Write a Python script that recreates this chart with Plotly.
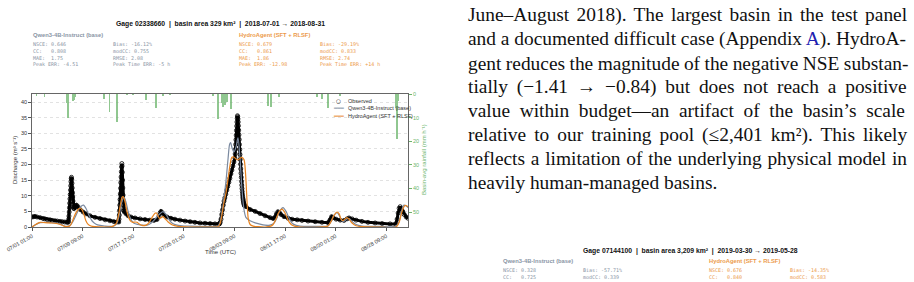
import plotly.graph_objects as go
import pandas as pd

W, H = 914, 282
T0 = pd.Timestamp("2018-07-01 01:00")

# ---------------- data (hours after 2018-07-01 01:00 UTC) ----------------
obs_hours = [0, 6, 12, 20, 32, 44, 51, 60, 71, 80, 91, 100, 111, 120, 130, 138,
             143, 144, 145, 146, 147, 148, 149, 150, 151, 152, 153, 154, 155, 156,
             157, 158, 159, 160, 161, 162, 163, 164, 165, 166,
             170, 176, 182, 190, 202, 213, 229, 249, 269, 289, 308, 324, 336,
             343, 344, 345, 346, 347, 348, 349, 350, 351, 352, 353, 354, 355, 356,
             357, 358, 359, 360, 361, 362, 363, 364, 365,
             372, 380, 391, 407, 427, 447, 466, 482, 494, 502, 506, 510, 514, 522,
             534, 549, 565, 585, 605, 625, 644, 664, 684, 704, 723, 739,
             741, 744, 747, 750, 753, 756, 759, 762, 766, 770, 774, 778, 782, 786,
             790, 794, 798, 802, 803, 804, 805, 806, 807, 808, 809, 810, 811, 812,
             813, 814, 815, 816, 817, 818, 819, 820, 821, 822, 823, 824, 825, 826,
             827, 828, 829, 830, 831, 832, 833, 834, 835, 836, 837, 838, 839, 840,
             846, 862, 882, 901, 921, 941, 953, 961, 966, 972, 978, 984, 996, 1012,
             1028, 1048, 1067, 1091, 1119, 1146, 1170, 1178, 1184, 1190, 1202, 1218,
             1233, 1245, 1253, 1265, 1281, 1304, 1328, 1356, 1384, 1415, 1437, 1443,
             1447, 1451, 1455, 1459, 1465, 1471, 1479, 1486]
obs_q = [3.2, 3.3, 3.4, 3.2, 3.0, 2.7, 2.6, 2.4, 2.3, 2.1, 2.0, 1.9, 1.8, 1.7, 1.6, 1.5,
         1.5, 1.8, 2.5, 3.5, 4.8, 6.2, 7.6, 9.0, 10.4, 11.8, 13.2, 14.5, 15.5, 15.9,
         15.3, 14.0, 12.5, 11.0, 9.6, 8.3, 7.2, 6.4, 6.0, 5.9,
         6.2, 7.0, 6.5, 5.6, 4.8, 4.2, 3.6, 3.1, 2.7, 2.3, 2.0, 1.7, 1.6,
         1.6, 2.5, 3.8, 5.3, 7.0, 8.8, 10.6, 12.4, 14.2, 16.0, 17.7, 19.2, 20.3, 19.5,
         17.5, 15.0, 12.5, 10.2, 8.4, 7.0, 6.0, 5.3, 4.8,
         4.2, 3.6, 3.2, 2.9, 2.6, 2.4, 2.2, 2.1, 2.4, 3.5, 4.5, 5.0, 4.6, 3.8,
         3.2, 2.8, 2.5, 2.2, 1.9, 1.7, 1.5, 1.3, 1.2, 1.1, 1.0, 1.0,
         1.0, 1.5, 2.5, 4.0, 5.5, 7.0, 8.3, 9.3, 10.5, 11.8, 13.0, 14.3, 15.6, 17.0,
         18.2, 19.5, 20.8, 22.0, 23.4, 24.9, 26.4, 27.9, 29.4, 30.9, 32.3, 33.6, 34.8, 35.6,
         35.3, 34.6, 33.6, 32.4, 31.0, 29.5, 28.0, 26.4, 24.8, 23.2, 21.6, 20.1, 18.6, 17.2,
         15.9, 14.6, 13.4, 12.3, 11.3, 10.4, 9.6, 9.0, 8.5, 8.0, 7.6, 7.3, 7.0, 6.8,
         6.5, 5.6, 5.0, 4.3, 3.6, 3.0, 2.7, 3.2, 4.2, 4.9, 4.6, 4.0, 3.3, 2.8,
         2.5, 2.3, 2.1, 1.9, 1.7, 1.5, 1.4, 2.3, 3.3, 3.0, 2.5, 2.2,
         2.1, 2.6, 2.9, 2.6, 2.2, 1.8, 1.5, 1.3, 1.1, 1.0, 1.0, 2.5,
         4.5, 6.0, 6.5, 6.0, 5.0, 4.0, 3.2, 2.8]

qwen_hours = [0, 16, 32, 51, 71, 91, 111, 126, 138, 150, 162, 174, 186, 198, 204, 213,
              225, 237, 253, 269, 289, 308, 324, 336, 344, 352, 360, 364, 372, 380,
              391, 403, 419, 435, 455, 470, 486, 502, 518, 530, 542, 553, 569, 593,
              625, 664, 704, 735, 743, 751, 759, 767, 775, 781, 785, 790, 798, 806,
              814, 822, 830, 838, 846, 862, 882, 901, 921, 941, 957, 968, 980, 992,
              1004, 1016, 1028, 1044, 1059, 1099, 1138, 1170, 1182, 1194, 1206, 1217,
              1225, 1233, 1245, 1253, 1265, 1281, 1304, 1336, 1376, 1435, 1447, 1455,
              1462, 1470, 1478, 1486]
qwen_q = [0.0, 0.8, 1.4, 1.5, 1.4, 1.3, 1.0, 0.4, 0.2, 0.5, 1.8, 3.8, 5.8, 6.9, 7.0, 6.0,
          3.8, 2.0, 0.9, 0.5, 0.3, 0.2, 0.3, 1.2, 3.5, 7.0, 9.2, 9.5, 7.8, 5.0,
          2.4, 1.2, 0.8, 0.6, 0.6, 1.2, 2.5, 4.0, 4.9, 4.0, 2.3, 1.3, 0.7, 0.4,
          0.3, 0.2, 0.2, 0.3, 1.5, 5.0, 9.5, 15.0, 22.0, 26.5, 27.0, 25.5, 24.0, 25.5,
          28.5, 22.0, 12.0, 5.5, 3.0, 2.0, 1.3, 0.9, 0.6, 0.6, 1.3, 3.0, 5.2, 6.2,
          5.0, 2.8, 1.2, 0.5, 0.3, 0.2, 0.2, 0.4, 1.8, 3.8, 4.6, 3.3,
          2.0, 1.8, 2.6, 2.7, 1.8, 0.8, 0.3, 0.2, 0.2, 0.2, 1.0, 3.0,
          5.5, 7.0, 6.8, 6.2]

hydro_hours = [0, 16, 32, 51, 71, 91, 111, 126, 138, 150, 158, 166, 174, 182, 190, 198,
               206, 213, 221, 233, 249, 289, 316, 332, 340, 348, 356, 360, 368, 375,
               383, 391, 399, 407, 415, 423, 435, 451, 463, 474, 486, 492, 498, 504,
               510, 518, 526, 538, 553, 577, 625, 704, 735, 743, 751, 759, 767, 775,
               783, 790, 798, 806, 814, 822, 830, 838, 844, 850, 855, 862, 874, 893,
               921, 941, 953, 964, 976, 988, 1000, 1012, 1024, 1040, 1059, 1138, 1170,
               1182, 1194, 1206, 1214, 1221, 1229, 1237, 1245, 1253, 1265, 1281, 1304,
               1376, 1439, 1451, 1459, 1467, 1474, 1480, 1486]
hydro_q = [0.0, 0.9, 1.5, 1.4, 1.3, 1.2, 0.8, 0.3, 0.1, 0.4, 1.5, 3.2, 4.6, 5.6, 6.0, 5.5,
           3.8, 2.0, 0.9, 0.3, 0.1, 0.0, 0.1, 1.0, 3.0, 6.5, 9.5, 9.7, 8.0, 5.0,
           2.8, 1.8, 1.5, 1.6, 1.5, 1.0, 0.5, 0.6, 1.5, 3.0, 4.4, 4.5, 3.5, 2.7,
           3.0, 3.3, 2.6, 1.6, 0.7, 0.2, 0.0, 0.0, 0.1, 1.0, 4.0, 8.0, 11.0, 15.5,
           20.0, 22.3, 22.4, 21.8, 21.5, 22.0, 22.3, 21.5, 17.0, 8.0, 2.5, 0.8, 0.3, 0.1,
           0.0, 0.2, 0.8, 2.5, 4.8, 5.7, 4.5, 2.2, 0.8, 0.2, 0.0, 0.0, 0.3,
           1.8, 3.8, 4.8, 4.2, 2.6, 2.0, 2.6, 3.0, 2.5, 1.3, 0.4, 0.1,
           0.0, 0.0, 1.5, 4.0, 6.0, 6.9, 6.8, 6.5]

rain_hours = [18, 49, 138, 140, 142, 161, 164, 166, 170, 285, 306, 335, 376, 399,
              451, 490, 518, 546, 715, 736, 750, 754, 759, 763, 772, 785,
              934, 944, 976, 1126, 1146, 1171, 1217, 1437, 1442, 1447]
rain_mm = [0.7, 1.4, 4.0, 6.0, 10.0, 2.8, 2.0, 2.5, 1.2, 2.1, 7.8, 11.8, 0.4, 0.4,
           2.4, 6.1, 0.5, 0.4, 0.5, 10.4, 4.0, 5.5, 3.0, 4.5, 3.5, 6.5,
           5.0, 5.5, 1.4, 1.4, 2.0, 6.0, 1.0, 6.0, 19.0, 3.0]

tick_hours = [0, 200, 400, 600, 800, 1000, 1200, 1400]
tick_labels = ["07/01 01:00", "07/09 09:00", "07/17 17:00", "07/26 01:00",
               "08/03 09:00", "08/11 17:00", "08/20 01:00", "08/28 09:00"]
end_hour = 1486

legend_labels = ["Observed", "Qwen3-4B-Instruct (base)", "HydroAgent (SFT + RLSF)"]

base_metrics = [["NSCE: 0.646", "CC:   0.808", "MAE:  1.75", "Peak ERR: -4.51"],
                ["Bias: -16.12%", "modCC: 0.755", "RMSE: 2.08", "Peak Time ERR: -5 h"]]
agent_metrics = [["NSCE: 0.679", "CC:   0.861", "MAE:  1.86", "Peak ERR: -12.98"],
                 ["Bias: -29.19%", "modCC: 0.833", "RMSE: 2.74", "Peak Time ERR: +14 h"]]
base2_metrics = [["NSCE: 0.328", "CC:   0.725"], ["Bias: -57.71%", "modCC: 0.339"]]
agent2_metrics = [["NSCE: 0.676", "CC:   0.840"], ["Bias: -14.35%", "modCC: 0.583"]]

body_lines = [
    "June–August 2018). The largest basin in the test panel",
    "and a documented difficult case (Appendix <span style='color:#2020b0'>A</span>). HydroA-",
    "gent reduces the magnitude of the negative NSE substan-",
    "tially (−1.41 → −0.84) but does not reach a positive",
    "value within budget—an artifact of the basin’s scale",
    "relative to our training pool (≤2,401 km²). This likely",
    "reflects a limitation of the underlying physical model in",
    "heavily human-managed basins.",
]
# extra inter-word spacing (px) to mimic the justified paragraph
body_wordspace = [2.4, 0, -0.4, 4.0, 4.8, 3.2, 0.9, 0]

# ---------------- styling ----------------
C_OBS = "#000000"
C_BASE = "#7b8aa0"
C_AGENT = "#e8831f"
C_BASE_T = "#8a95a5"
C_AGENT_T = "#ec9a4a"
C_RAIN = "#6cb56c"
SANS = "Liberation Sans, Arial, sans-serif"
MONO = "DejaVu Sans Mono, monospace"
SERIF = "Liberation Serif, Times New Roman, serif"


def tt(hours):
    return [T0 + pd.Timedelta(hours=h) for h in hours]


def X(px):
    return px / W


def Y(py):
    return 1 - py / H


fig = go.Figure()

fig.add_trace(go.Scatter(
    x=tt(obs_hours), y=obs_q, name=legend_labels[0], mode="lines+markers",
    line=dict(color=C_OBS, width=3.0),
    marker=dict(symbol="circle-open", size=4, color=C_OBS, line=dict(width=0.8)),
))
fig.add_trace(go.Scatter(
    x=tt(qwen_hours), y=qwen_q, name=legend_labels[1], mode="lines",
    line=dict(color=C_BASE, width=1.2, shape="spline", smoothing=0.8),
))
fig.add_trace(go.Scatter(
    x=tt(hydro_hours), y=hydro_q, name=legend_labels[2], mode="lines",
    line=dict(color=C_AGENT, width=1.2, shape="spline", smoothing=0.8),
))
fig.add_trace(go.Bar(
    x=tt(rain_hours), y=rain_mm, yaxis="y2", showlegend=False,
    marker=dict(color=C_RAIN, line=dict(width=0)), opacity=0.75,
    width=3 * 3600 * 1000,
))

fig.update_layout(
    width=W, height=H, margin=dict(l=0, r=0, t=0, b=0, autoexpand=False),
    paper_bgcolor="white", plot_bgcolor="white",
    font=dict(family=SANS, size=6, color="#333"),
    showlegend=False,
    bargap=0,
    xaxis=dict(domain=[X(32), X(408)], type="date", automargin=False,
               range=[T0, T0 + pd.Timedelta(hours=end_hour)],
               tickvals=tt(tick_hours), ticktext=tick_labels, tickangle=-30,
               tickfont=dict(size=5.5, color="#333"), ticks="outside", ticklen=3,
               tickcolor="#555", showline=True, linecolor="#666", linewidth=0.8,
               mirror=True, showgrid=False, zeroline=False),
    yaxis=dict(domain=[Y(227), Y(94)], range=[0, 42.56], dtick=5, automargin=False,
               tickfont=dict(size=5.5, color="#333"), ticks="outside", ticklen=3,
               tickcolor="#555", showline=True, linecolor="#666", linewidth=0.8,
               showgrid=True, gridcolor="#e2e2e2", griddash="dot", gridwidth=0.6,
               zeroline=False),
    yaxis2=dict(overlaying="y", side="right", anchor="x", range=[56.3, 0],
                automargin=False, tickvals=[0, 10, 20, 30, 40, 50],
                tickfont=dict(size=5.5, color=C_RAIN), ticks="outside", ticklen=3,
                tickcolor=C_RAIN, showline=True, linecolor="#666", linewidth=0.8,
                showgrid=False, zeroline=False),
)

ann = []


def add_text(px, py, text, size, color="#222", family=SANS, xanchor="left",
             yanchor="middle", angle=0):
    ann.append(dict(x=X(px), y=Y(py), xref="paper", yref="paper", text=text,
                    showarrow=False, xanchor=xanchor, yanchor=yanchor, textangle=angle,
                    borderpad=0, font=dict(size=size, color=color, family=family)))


# main chart header
add_text(220, 24.5, "<b>Gage 02338660  |  basin area 329 km²  |  2018-07-01 → 2018-08-31</b>",
         6.8, "#111", xanchor="center")
add_text(31.5, 34.7, "<b>Qwen3-4B-Instruct (base)</b>", 5.8, C_BASE_T)
add_text(237.5, 34.7, "<b>HydroAgent (SFT + RLSF)</b>", 5.8, C_AGENT_T)
rows_y = [44.2, 50.9, 57.6, 64.3]
for ci, colx in enumerate([31.5, 112]):
    for ri, t in enumerate(base_metrics[ci]):
        add_text(colx, rows_y[ri], t, 5, C_BASE_T, MONO)
for ci, colx in enumerate([237.5, 318.5]):
    for ri, t in enumerate(agent_metrics[ci]):
        add_text(colx, rows_y[ri], t, 5, C_AGENT_T, MONO)

# compact legend (text keys)
leg_y = [100.7, 108.2, 115.7]
add_text(338.5, leg_y[0], "○", 5.5, C_OBS, "DejaVu Sans", xanchor="center")
add_text(338.5, leg_y[1], "━━━", 5.5, C_BASE, "DejaVu Sans", xanchor="center")
add_text(338.5, leg_y[2], "━━━", 5.5, C_AGENT, "DejaVu Sans", xanchor="center")
for lbl, yy in zip(legend_labels, leg_y):
    add_text(346.5, yy, lbl, 5.5, "#333")

# axis titles
add_text(15, 160, "Discharge (m³ s⁻¹)", 6, "#333", xanchor="center", angle=-90)
add_text(424, 160, "Basin-avg rainfall (mm h⁻¹)", 6, C_RAIN, xanchor="center", angle=-90)
add_text(220, 252, "Time (UTC)", 6, "#333", xanchor="center")

# body text
body_y = [15, 39.2, 63.2, 87.2, 111, 135, 158.5, 182]
for t, yy, ws in zip(body_lines, body_y, body_wordspace):
    txt = t if ws == 0 else "<span style='word-spacing:%.1fpx'>%s</span>" % (ws, t)
    add_text(467, yy, txt, 19.4, "#111", SERIF)

# second figure header (bottom right)
add_text(690, 250.7, "<b>Gage 07144100  |  basin area 3,209 km²  |  2019-03-30 → 2019-05-28</b>",
         6.8, "#111", xanchor="center")
add_text(501.5, 261, "<b>Qwen3-4B-Instruct (base)</b>", 5.8, C_BASE_T)
add_text(707.5, 261, "<b>HydroAgent (SFT + RLSF)</b>", 5.8, C_AGENT_T)
rows2_y = [270.4, 277.1]
for ci, colx in enumerate([501.5, 582]):
    for ri, t in enumerate(base2_metrics[ci]):
        add_text(colx, rows2_y[ri], t, 5, C_BASE_T, MONO)
for ci, colx in enumerate([707.5, 789]):
    for ri, t in enumerate(agent2_metrics[ci]):
        add_text(colx, rows2_y[ri], t, 5, C_AGENT_T, MONO)

fig.update_layout(annotations=ann)
fig.write_html("out.html",
               post_script="document.body.style.margin='0';document.body.style.overflow='hidden';")
